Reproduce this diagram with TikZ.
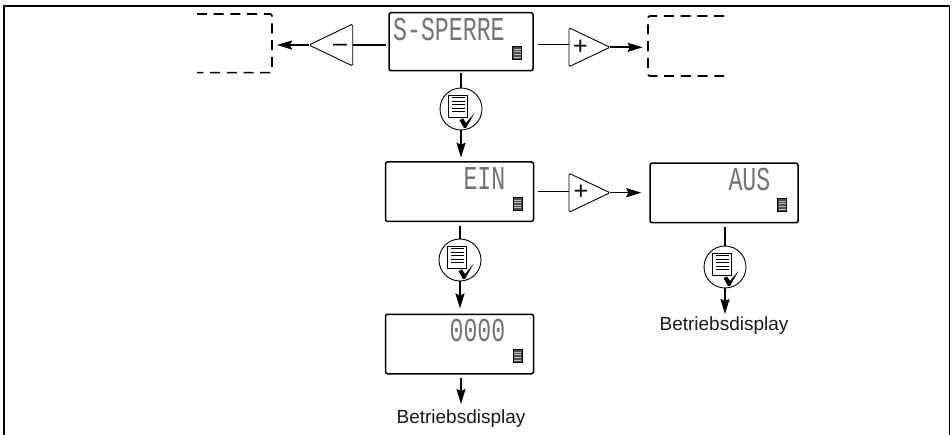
\documentclass[tikz,border=0pt]{standalone}
\usepackage{fontspec}
\setmainfont{Liberation Sans}
\newfontfamily\lcdfont{Liberation Mono}
\usetikzlibrary{arrows.meta,calc,positioning}
\tikzset{
  display/.style={draw, line width=1.5pt, rounded corners=2pt, minimum width=148pt, minimum height=59.5pt, inner sep=0pt},
  lcdtext/.style={font=\lcdfont\fontsize{20}{20}\selectfont, inner sep=0pt, anchor=east, transform shape, xscale=1.16, yscale=1.67, text=black!55},
  keyicon/.style={draw, line width=0.9pt, circle, minimum size=42pt, inner sep=0pt},
  keysign/.style={inner sep=0pt, font=\fontsize{25}{25}\selectfont},
  plain/.style={font=\fontsize{19}{20}\selectfont, inner sep=0pt, anchor=base, text=black!90},
  flow/.style={line width=1.6pt, -{Stealth[length=15pt,width=9pt,inset=2pt]}},
  stub/.style={line width=1.6pt},
  ghost/.style={line width=1.6pt, dash pattern=on 10pt off 6.7pt, rounded corners=2pt},
  keytri/.style={line width=0.9pt, rounded corners=1.5pt}
}
% small list symbol on the displays
\newcommand{\menusym}[1]{
  \draw[fill=black!70, line width=0.6pt] ($(#1.south east)+(-12,-12)$) rectangle ++(-9,-13);
  \foreach \k in {1,...,4}
    \draw[black!25, line width=0.5pt] ($(#1.south east)+(-20,-12-2.6*\k)$) -- ++(7,0);
}
% list with check mark inside the round key
\newcommand{\keysym}[1]{
  \draw[line width=0.9pt, fill=white] ($(#1.center)+(-12.5,-14)$) rectangle ++(19,22);
  \foreach \k in {1,...,5}
    \draw[line width=0.8pt] ($(#1.center)+(-9.5,-14.5+3.4*\k)$) -- ++(13,0);
  \fill ($(#1.center)+(-1.5,11)$) -- ++(3.5,-1.5) -- ++(3,4.5) -- ++(8.5,-10) -- ++(-8.5,15) -- ++(-2,0) -- cycle;
}
\begin{document}
\begin{tikzpicture}[x=1pt, y=-1pt]
  \useasboundingbox (0,0) rectangle (952,435);
  \draw[line width=1.8pt] (4,437) -- (4,5.7) -- (949.5,5.7) -- (949.5,437);

  % displays
  \node[display, minimum width=144pt, minimum height=58pt] (sperre) at (461,41.7) {};
  \node[display] (ein) at (459.5,191.7) {};
  \node[display] (aus) at (724,193) {};
  \node[display] (code) at (459.5,344) {};

  \node[lcdtext, anchor=west] (sperretext) at (393,29) {S-SPERRE};
  \node[lcdtext] (eintext) at (505.5,178.5) {EIN};
  \node[lcdtext] (austext) at (770.5,179) {AUS};
  \node[lcdtext] (codetext) at (505.5,330.5) {0000};

  \menusym{sperre}
  \menusym{ein}
  \menusym{aus}
  \menusym{code}

  % free ends next to the displays
  \coordinate (leftend) at (277,45);
  \coordinate (rightend) at (642.7,47.3);

  \draw[ghost] (197,14) -- (272,14) -- (272,72.7) -- (197,72.7);
  \draw[ghost] (724,16) -- (648,16) -- (648,76) -- (724,76);

  % plus and minus keys
  \draw[keytri] (352.7,24) -- (352.7,66) -- (309,45) -- cycle;
  \coordinate (minustip) at (309,45);
  \coordinate (minusbase) at (352.7,45);
  \draw[keytri] (569,27.7) -- (569,66.7) -- (610,47.3) -- cycle;
  \coordinate (plustip) at (610,47.3);
  \coordinate (plusbase) at (569,44.7);
  \draw[keytri] (569,173.3) -- (569,212.3) -- (610,192.7) -- cycle;
  \coordinate (plusbasetwo) at (569,191.7);
  \coordinate (plustiptwo) at (610,192.7);
  \node[keysign, anchor=base] (minuslabel) at (340,52) {–};
  \node[keysign] (pluslabel) at (580.5,47) {+};
  \node[keysign] (pluslabeltwo) at (581,192.3) {+};

  % round keys
  \node[keyicon] (keya) at (461,109) {};
  \node[keyicon] (keyb) at (460,260) {};
  \node[keyicon] (keyc) at (725,267) {};
  \keysym{keya}
  \keysym{keyb}
  \keysym{keyc}

  \node[plain] (betriebleft) at (461,423) {Betriebsdisplay};
  \node[plain] (betriebright) at (724,330) {Betriebsdisplay};

  % connectors
  \draw[flow] (minustip) -- (leftend);
  \draw[stub] (minusbase) -- ($(sperre.west |- minusbase)+(-2.5,0)$);
  \draw[stub] ($(sperre.east |- plusbase)+(4,0)$) -- (plusbase);
  \draw[flow] (plustip) -- (rightend);
  \draw[stub] ($(sperre.south)+(0,2)$) -- (keya);
  \draw[flow] (keya) -- ($(keya |- ein.north)+(0,-3.5)$);
  \draw[stub] ($(ein.east |- plusbasetwo)+(3.5,0)$) -- (plusbasetwo);
  \draw[flow] (plustiptwo) -- ($(aus.west |- plustiptwo)+(-8,0)$);
  \draw[stub] ($(keyb |- ein.south)+(0,3.5)$) -- (keyb);
  \draw[flow] (keyb) -- ($(keyb |- code.north)+(0,-5)$);
  \draw[stub] ($(keyc |- aus.south)+(0,3.5)$) -- (keyc);
  \draw[flow] (keyc) -- ($(keyc |- betriebright.north)+(0,-2)$);
  \draw[flow] ($(betriebleft |- code.south)+(0,3)$) -- ($(betriebleft.north)+(0,-5)$);
\end{tikzpicture}
\end{document}
